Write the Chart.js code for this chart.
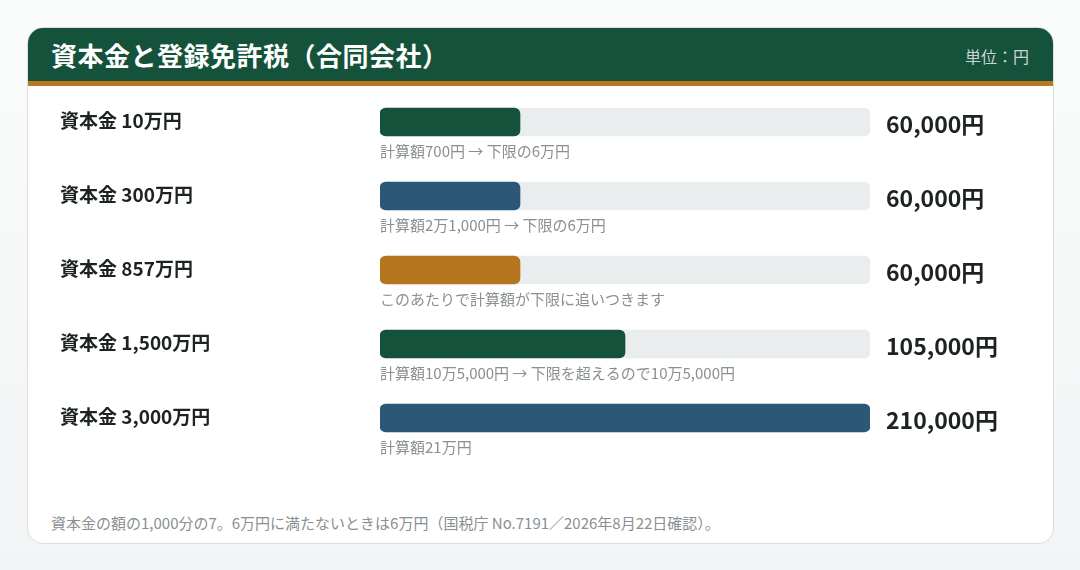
<!DOCTYPE html>
<html><head><meta charset="utf-8">
<script src="https://cdn.jsdelivr.net/npm/chart.js@4"></script>
<style>
  body{margin:0;width:1080px;height:570px;background:linear-gradient(#fafbfb,#f2f4f5);font-family:"Noto Sans CJK JP","Noto Sans",sans-serif;position:relative;overflow:hidden}
  .card{position:absolute;left:27px;top:27px;width:1025px;height:515px;background:#fff;border:1px solid #dcdfe0;border-radius:16px;overflow:hidden}
  .head{height:53px;background:#15523b;border-bottom:5px solid #b8791f;position:relative}
  .head h1{margin:0;position:absolute;left:23px;top:8px;font-size:26px;font-weight:700;color:#fff;letter-spacing:0.5px}
  .head span{position:absolute;right:24px;top:16px;font-size:16px;color:#c9d6d0}
  .foot{position:absolute;left:23px;top:484px;font-size:15px;color:#8a8f92}
  canvas{position:absolute;left:0;top:0}
</style></head>
<body>
<div class="card">
  <div class="head"><h1>資本金と登録免許税（合同会社）</h1><span>単位：円</span></div>
  <div class="foot">資本金の額の1,000分の7。6万円に満たないときは6万円（国税庁 No.7191／2026年8月22日確認）。</div>
</div>
<canvas id="c" width="1080" height="570"></canvas>
<script>
const labels = ['資本金 10万円', '資本金 300万円', '資本金 857万円', '資本金 1,500万円', '資本金 3,000万円'];
const taxValues = [60000, 60000, 60000, 105000, 210000];
const notes = [
  '計算額700円 → 下限の6万円',
  '計算額2万1,000円 → 下限の6万円',
  'このあたりで計算額が下限に追いつきます',
  '計算額10万5,000円 → 下限を超えるので10万5,000円',
  '計算額21万円'
];
const barColors = ['#15523b', '#2c5878', '#b5761f', '#15523b', '#2c5878'];
const axisMax = 210000;

const rowText = {
  id: 'rowText',
  afterDatasetsDraw(chart) {
    const ctx = chart.ctx;
    const meta = chart.getDatasetMeta(1);
    ctx.save();
    ctx.textBaseline = 'middle';
    meta.data.forEach((bar, i) => {
      const y = bar.y;
      ctx.fillStyle = '#1c2320';
      ctx.font = 'bold 19px "Noto Sans CJK JP"';
      ctx.textAlign = 'left';
      ctx.fillText(labels[i], 60, y - 1);
      ctx.font = 'bold 23px "Noto Sans CJK JP"';
      ctx.fillText(taxValues[i].toLocaleString('en-US') + '円', 886, y + 2);
      ctx.fillStyle = '#8a8f92';
      ctx.font = '15px "Noto Sans CJK JP"';
      ctx.fillText(notes[i], 380, y + 29);
    });
    ctx.restore();
  }
};

new Chart(document.getElementById('c'), {
  type: 'bar',
  data: {
    labels: labels,
    datasets: [
      { data: labels.map(() => axisMax), backgroundColor: '#e9eded', borderRadius: 6, borderSkipped: false, barThickness: 28, grouped: false, order: 2 },
      { data: taxValues, backgroundColor: barColors, borderRadius: 6, borderSkipped: false, barThickness: 28, grouped: false, order: 1 }
    ]
  },
  options: {
    indexAxis: 'y',
    responsive: false,
    animation: false,
    events: [],
    layout: { padding: { left: 380, right: 210, top: 85, bottom: 115 } },
    plugins: { legend: { display: false }, tooltip: { enabled: false } },
    scales: {
      x: { display: false, min: 0, max: axisMax },
      y: { display: false }
    }
  },
  plugins: [rowText]
});
</script>
</body></html>
